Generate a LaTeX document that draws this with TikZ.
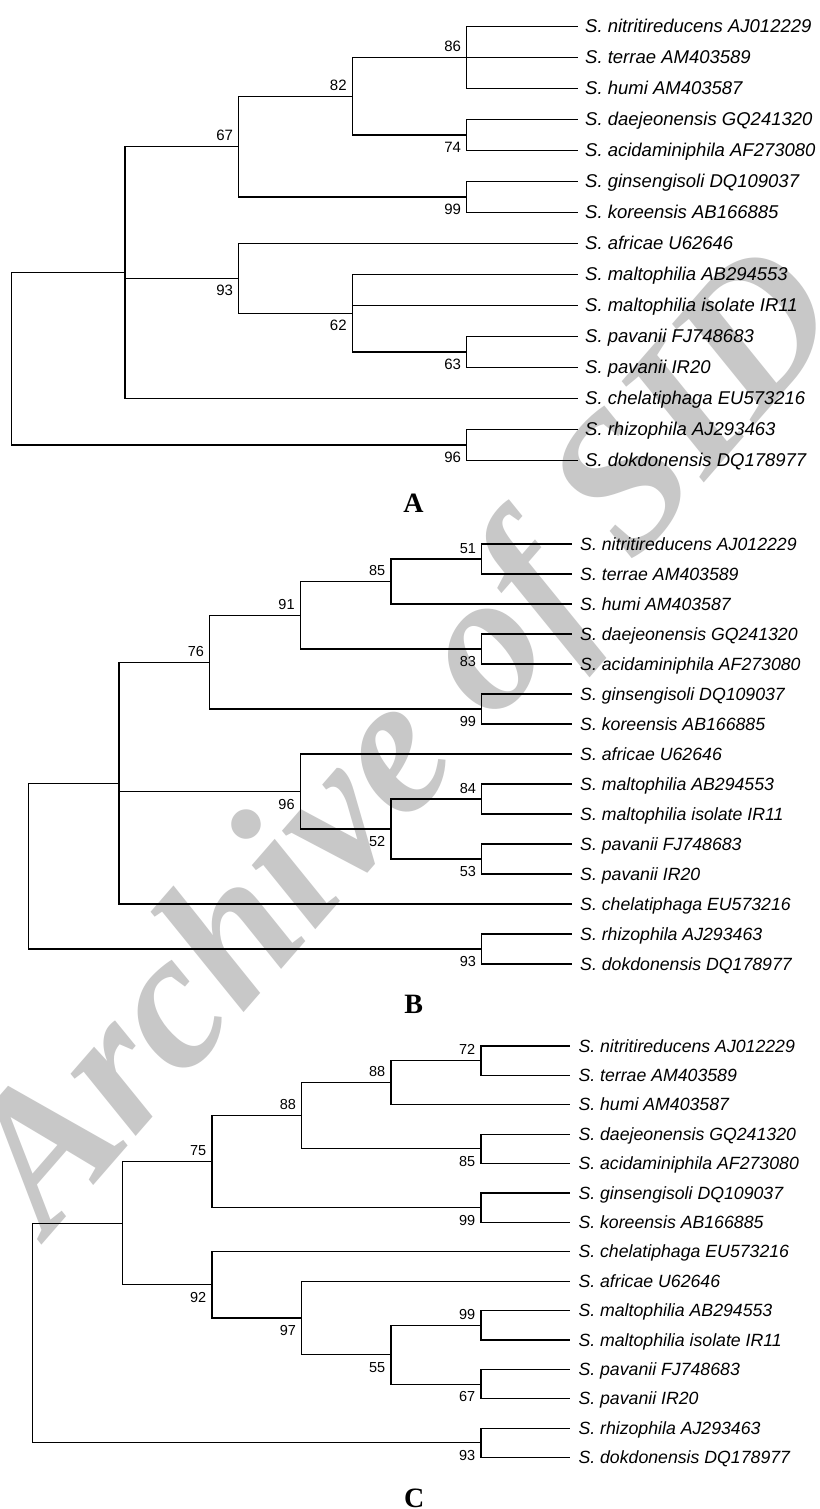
\documentclass[tikz,border=0pt]{standalone}
\usepackage{fontspec}
\setmainfont{Liberation Serif}
\newfontfamily\arialf{Liberation Sans}
\definecolor{wmgray}{RGB}{200,200,200}
\newcommand\leaf[5]{\coordinate (#2) at (#3,#4); \node[#1] (#2-t) at ([shift={(\tshift,6)}]#2) {#5};}
\newcommand\bsu[3]{\node[#1] (#2-bs) at ([shift={(-5.5,-6)}]#2) {#3};}
\newcommand\bsd[3]{\node[#1] (#2-bs) at ([shift={(-5.5,17.5)}]#2) {#3};}
\begin{document}
\begin{tikzpicture}[x=1pt,y=-1pt,
  br/.style={line width=1.1pt, black},
  leafA/.style={anchor=base west, inner sep=0pt, font=\arialf\itshape\fontsize{18.5}{20}\selectfont},
  leafB/.style={anchor=base west, inner sep=0pt, font=\arialf\itshape\fontsize{17.7}{19}\selectfont},
  bsA/.style={anchor=base east, inner sep=0pt, font=\arialf\fontsize{15}{16}\selectfont},
  bsB/.style={anchor=base east, inner sep=0pt, font=\arialf\fontsize{14.5}{16}\selectfont},
  panel/.style={anchor=base, inner sep=0pt, font=\bfseries\fontsize{28}{30}\selectfont},
  wm/.style={anchor=base west, inner sep=0pt, text=wmgray, rotate=49, font=\bfseries\itshape\fontsize{196}{196}\selectfont}]
\useasboundingbox (0,0) rectangle (819,1509);
\fill[white] (0,0) rectangle (819,1509);
\begin{scope}
\clip (0,0) rectangle (819,1509);
\node[wm] (wmark) at (48,1238) {Archive of SID};
\end{scope}

% ---------------- Tree A ----------------
\def\tshift{7}
\leaf{leafA}{a0}{578}{26.5}{S. nitritireducens AJ012229}
\leaf{leafA}{a1}{578}{57.5}{S. terrae AM403589}
\leaf{leafA}{a2}{578}{88.5}{S. humi AM403587}
\leaf{leafA}{a3}{578}{119.5}{S. daejeonensis GQ241320}
\leaf{leafA}{a4}{578}{150.5}{S. acidaminiphila AF273080}
\leaf{leafA}{a5}{578}{181.5}{S. ginsengisoli DQ109037}
\leaf{leafA}{a6}{578}{212.5}{S. koreensis AB166885}
\leaf{leafA}{a7}{578}{243.5}{S. africae U62646}
\leaf{leafA}{a8}{578}{274.5}{S. maltophilia AB294553}
\leaf{leafA}{a9}{578}{305.5}{S. maltophilia isolate IR11}
\leaf{leafA}{a10}{578}{336.5}{S. pavanii FJ748683}
\leaf{leafA}{a11}{578}{367.5}{S. pavanii IR20}
\leaf{leafA}{a12}{578}{398.5}{S. chelatiphaga EU573216}
\leaf{leafA}{a13}{578}{429.5}{S. rhizophila AJ293463}
\leaf{leafA}{a14}{578}{460.5}{S. dokdonensis DQ178977}
\coordinate (A86) at (466.7,57.5);
\coordinate (A74) at (466.7,135);
\coordinate (A82) at (352.3,96.25);
\coordinate (A99) at (466.7,197);
\coordinate (A67) at (238.7,146.6);
\coordinate (A63) at (466.7,352);
\coordinate (A62) at (352.3,313.25);
\coordinate (A93) at (238.7,278.4);
\coordinate (A1) at (125,272.6);
\coordinate (A96) at (466.7,445);
\coordinate (Ar) at (11.3,358.8);
\draw[br] (A86) |- (a0); \draw[br] (A86) |- (a1); \draw[br] (A86) |- (a2);
\draw[br] (A74) |- (a3); \draw[br] (A74) |- (a4);
\draw[br] (A82) |- (A86); \draw[br] (A82) |- (A74);
\draw[br] (A99) |- (a5); \draw[br] (A99) |- (a6);
\draw[br] (A67) |- (A82); \draw[br] (A67) |- (A99);
\draw[br] (A63) |- (a10); \draw[br] (A63) |- (a11);
\draw[br] (A62) |- (a8); \draw[br] (A62) |- (a9); \draw[br] (A62) |- (A63);
\draw[br] (A93) |- (a7); \draw[br] (A93) |- (A62);
\draw[br] (A1) |- (A67); \draw[br] (A1) |- (A93); \draw[br] (A1) |- (a12);
\draw[br] (A96) |- (a13); \draw[br] (A96) |- (a14);
\draw[br] (Ar) |- (A1); \draw[br] (Ar) |- (A96);
\bsu{bsA}{A86}{86}
\bsu{bsA}{A82}{82}
\bsd{bsA}{A74}{74}
\bsu{bsA}{A67}{67}
\bsd{bsA}{A99}{99}
\bsd{bsA}{A93}{93}
\bsd{bsA}{A62}{62}
\bsd{bsA}{A63}{63}
\bsd{bsA}{A96}{96}
\node[panel] (labA) at (413.5,512) {A};

% ---------------- Tree B ----------------
\def\tshift{8.3}
\leaf{leafB}{b0}{571.7}{544}{S. nitritireducens AJ012229}
\leaf{leafB}{b1}{571.7}{574}{S. terrae AM403589}
\leaf{leafB}{b2}{571.7}{604}{S. humi AM403587}
\leaf{leafB}{b3}{571.7}{634}{S. daejeonensis GQ241320}
\leaf{leafB}{b4}{571.7}{664}{S. acidaminiphila AF273080}
\leaf{leafB}{b5}{571.7}{694}{S. ginsengisoli DQ109037}
\leaf{leafB}{b6}{571.7}{724}{S. koreensis AB166885}
\leaf{leafB}{b7}{571.7}{754}{S. africae U62646}
\leaf{leafB}{b8}{571.7}{784}{S. maltophilia AB294553}
\leaf{leafB}{b9}{571.7}{814}{S. maltophilia isolate IR11}
\leaf{leafB}{b10}{571.7}{844}{S. pavanii FJ748683}
\leaf{leafB}{b11}{571.7}{874}{S. pavanii IR20}
\leaf{leafB}{b12}{571.7}{904}{S. chelatiphaga EU573216}
\leaf{leafB}{b13}{571.7}{934}{S. rhizophila AJ293463}
\leaf{leafB}{b14}{571.7}{964}{S. dokdonensis DQ178977}
\coordinate (B51) at (481.7,559);
\coordinate (B85) at (391,581.5);
\coordinate (B83) at (481.7,649);
\coordinate (B91) at (300.3,615.25);
\coordinate (B99) at (481.7,709);
\coordinate (B76) at (209.7,662.1);
\coordinate (B84) at (481.7,799);
\coordinate (B53) at (481.7,859);
\coordinate (B52) at (391,829);
\coordinate (B96) at (300.3,791.5);
\coordinate (B1) at (119,783.1);
\coordinate (B93) at (481.7,949);
\coordinate (Br) at (28.3,866);
\draw[br] (B51) |- (b0); \draw[br] (B51) |- (b1);
\draw[br] (B85) |- (B51); \draw[br] (B85) |- (b2);
\draw[br] (B83) |- (b3); \draw[br] (B83) |- (b4);
\draw[br] (B91) |- (B85); \draw[br] (B91) |- (B83);
\draw[br] (B99) |- (b5); \draw[br] (B99) |- (b6);
\draw[br] (B76) |- (B91); \draw[br] (B76) |- (B99);
\draw[br] (B84) |- (b8); \draw[br] (B84) |- (b9);
\draw[br] (B53) |- (b10); \draw[br] (B53) |- (b11);
\draw[br] (B52) |- (B84); \draw[br] (B52) |- (B53);
\draw[br] (B96) |- (b7); \draw[br] (B96) |- (B52);
\draw[br] (B1) |- (B76); \draw[br] (B1) |- (B96); \draw[br] (B1) |- (b12);
\draw[br] (B93) |- (b13); \draw[br] (B93) |- (b14);
\draw[br] (Br) |- (B1); \draw[br] (Br) |- (B93);
\bsu{bsB}{B51}{51}
\bsu{bsB}{B85}{85}
\bsu{bsB}{B91}{91}
\bsd{bsB}{B83}{83}
\bsu{bsB}{B76}{76}
\bsd{bsB}{B99}{99}
\bsd{bsB}{B96}{96}
\bsu{bsB}{B84}{84}
\bsd{bsB}{B52}{52}
\bsd{bsB}{B53}{53}
\bsd{bsB}{B93}{93}
\node[panel] (labB) at (413.8,1013) {B};

% ---------------- Tree C ----------------
\def\tshift{8.3}
\leaf{leafB}{c0}{570}{1046}{S. nitritireducens AJ012229}
\leaf{leafB}{c1}{570}{1075.4}{S. terrae AM403589}
\leaf{leafB}{c2}{570}{1104.8}{S. humi AM403587}
\leaf{leafB}{c3}{570}{1134.2}{S. daejeonensis GQ241320}
\leaf{leafB}{c4}{570}{1163.6}{S. acidaminiphila AF273080}
\leaf{leafB}{c5}{570}{1193}{S. ginsengisoli DQ109037}
\leaf{leafB}{c6}{570}{1222.4}{S. koreensis AB166885}
\leaf{leafB}{c7}{570}{1251.8}{S. chelatiphaga EU573216}
\leaf{leafB}{c8}{570}{1281.2}{S. africae U62646}
\leaf{leafB}{c9}{570}{1310.6}{S. maltophilia AB294553}
\leaf{leafB}{c10}{570}{1340}{S. maltophilia isolate IR11}
\leaf{leafB}{c11}{570}{1369.4}{S. pavanii FJ748683}
\leaf{leafB}{c12}{570}{1398.8}{S. pavanii IR20}
\leaf{leafB}{c13}{570}{1428.2}{S. rhizophila AJ293463}
\leaf{leafB}{c14}{570}{1457.6}{S. dokdonensis DQ178977}
\coordinate (C72) at (481,1060.7);
\coordinate (C88i) at (391,1082.75);
\coordinate (C85) at (481,1148.9);
\coordinate (C88o) at (301.7,1115.8);
\coordinate (C99a) at (481,1207.7);
\coordinate (C75) at (212,1161.75);
\coordinate (C99b) at (481,1325.3);
\coordinate (C67) at (481,1384.1);
\coordinate (C55) at (391,1354.7);
\coordinate (C97) at (301.7,1317.95);
\coordinate (C92) at (212,1284.9);
\coordinate (C1) at (122.7,1223.3);
\coordinate (C93) at (481,1442.9);
\coordinate (Cr) at (32.7,1333);
\draw[br] (C72) |- (c0); \draw[br] (C72) |- (c1);
\draw[br] (C88i) |- (C72); \draw[br] (C88i) |- (c2);
\draw[br] (C85) |- (c3); \draw[br] (C85) |- (c4);
\draw[br] (C88o) |- (C88i); \draw[br] (C88o) |- (C85);
\draw[br] (C99a) |- (c5); \draw[br] (C99a) |- (c6);
\draw[br] (C75) |- (C88o); \draw[br] (C75) |- (C99a);
\draw[br] (C99b) |- (c9); \draw[br] (C99b) |- (c10);
\draw[br] (C67) |- (c11); \draw[br] (C67) |- (c12);
\draw[br] (C55) |- (C99b); \draw[br] (C55) |- (C67);
\draw[br] (C97) |- (c8); \draw[br] (C97) |- (C55);
\draw[br] (C92) |- (c7); \draw[br] (C92) |- (C97);
\draw[br] (C1) |- (C75); \draw[br] (C1) |- (C92);
\draw[br] (C93) |- (c13); \draw[br] (C93) |- (c14);
\draw[br] (Cr) |- (C1); \draw[br] (Cr) |- (C93);
\bsu{bsB}{C72}{72}
\bsu{bsB}{C88i}{88}
\bsu{bsB}{C88o}{88}
\bsd{bsB}{C85}{85}
\bsu{bsB}{C75}{75}
\bsd{bsB}{C99a}{99}
\bsd{bsB}{C92}{92}
\bsd{bsB}{C97}{97}
\bsd{bsB}{C55}{55}
\bsu{bsB}{C99b}{99}
\bsd{bsB}{C67}{67}
\bsd{bsB}{C93}{93}
\node[panel] (labC) at (414.3,1507) {C};
\end{tikzpicture}
\end{document}
